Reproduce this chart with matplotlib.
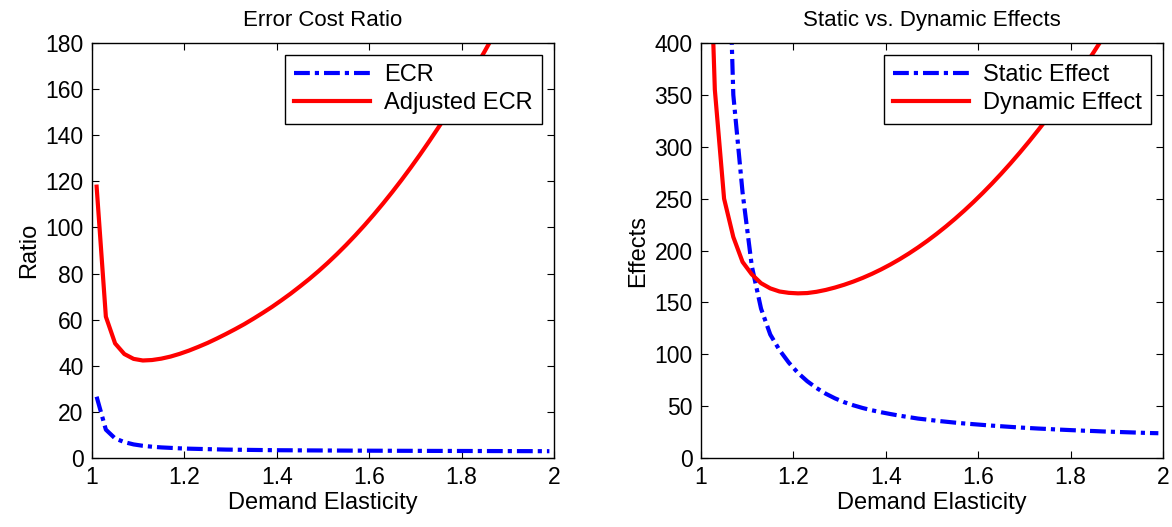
import numpy as np
import matplotlib
matplotlib.use("Agg")
import matplotlib.pyplot as plt

plt.rcParams['font.family'] = ['Liberation Sans', 'DejaVu Sans']

# demand elasticity grid
elasticity = [1.01, 1.03, 1.05, 1.07, 1.09, 1.11, 1.13, 1.15, 1.17, 1.19,
              1.21, 1.23, 1.25, 1.27, 1.29, 1.31, 1.33, 1.35, 1.37, 1.39,
              1.41, 1.43, 1.45, 1.47, 1.49, 1.51, 1.53, 1.55, 1.57, 1.59,
              1.61, 1.63, 1.65, 1.67, 1.69, 1.71, 1.73, 1.75, 1.77, 1.79,
              1.81, 1.83, 1.85, 1.87, 1.89, 1.91, 1.93, 1.95, 1.97, 1.99]

ecr = [26.6, 12.3, 8.5, 6.9, 5.9, 5.3, 4.9, 4.6, 4.4, 4.2,
       4.05, 3.95, 3.85, 3.75, 3.65, 3.6, 3.55, 3.5, 3.45, 3.4,
       3.37, 3.35, 3.32, 3.3, 3.28, 3.26, 3.24, 3.22, 3.2, 3.19,
       3.17, 3.16, 3.14, 3.13, 3.12, 3.1, 3.09, 3.08, 3.07, 3.06,
       3.05, 3.04, 3.03, 3.02, 3.01, 3.0, 2.99, 2.98, 2.97, 2.96]

adj_ecr = [117.7, 61.3, 49.7, 45.1, 43.0, 42.3, 42.5, 43.1, 44.0, 45.2,
           46.6, 48.2, 49.9, 51.8, 53.8, 55.9, 58.1, 60.5, 63.0, 65.6,
           68.4, 71.3, 74.4, 77.6, 81.0, 84.6, 88.4, 92.4, 96.6, 101.0,
           105.6, 110.4, 115.4, 120.6, 126.0, 131.6, 137.4, 143.4, 149.6, 156.0,
           162.6, 169.4, 176.4, 183.6, 191.0, 198.6, 206.4, 214.4, 222.6, 231.0]

static = [4000, 1400, 650, 350, 256, 185, 144, 119, 104, 92,
          82, 74, 67.5, 62, 57.5, 53.8, 50.8, 48.2, 46.0, 44.1,
          42.4, 40.8, 39.4, 38.0, 37.0, 35.9, 35.0, 34.1, 33.3, 32.6,
          31.9, 31.2, 30.6, 30.0, 29.4, 28.9, 28.4, 28.0, 27.5, 27.1,
          26.7, 26.3, 26.0, 25.6, 25.3, 25.0, 24.7, 24.4, 24.1, 23.9]

dynamic = [630, 355, 250, 213, 189, 177, 168.5, 163.5, 160.5, 159.2,
           158.7, 159.0, 160.2, 162.0, 164.3, 167.0, 170.1, 173.6, 177.5, 181.8,
           186.5, 191.6, 197.1, 203.0, 209.3, 216.0, 223.1, 230.6, 238.5, 246.8,
           255.5, 264.6, 274.1, 284.0, 294.3, 305.0, 316.1, 327.6, 339.5, 351.8,
           364.5, 377.6, 391.1, 405.0, 419.3, 434.0, 449.0, 464.5, 480.5, 497.0]

xticks = [1, 1.2, 1.4, 1.6, 1.8, 2]
xticklabels = ['1', '1.2', '1.4', '1.6', '1.8', '2']

LW = 3.0
dashdot = (0, (3.8, 1.2, 1.0, 1.2))

fig = plt.figure(figsize=(11.72, 5.27), dpi=100)
ax1 = fig.add_axes([0.0785, 0.1309, 0.3942, 0.7875])
ax2 = fig.add_axes([0.5981, 0.1309, 0.3942, 0.7875])


def style(ax, yticks, ylabel, title):
    ax.set_xlim(1, 2)
    ax.set_xticks(xticks)
    ax.set_xticklabels(xticklabels)
    ax.set_yticks(yticks)
    ax.set_ylim(yticks[0], yticks[-1])
    ax.tick_params(direction='in', top=True, right=True, length=5,
                   width=0.8, labelsize=16.5, pad=6)
    for s in ax.spines.values():
        s.set_linewidth(1.0)
    ax.set_xlabel('Demand Elasticity', fontsize=17, labelpad=2)
    ax.set_ylabel(ylabel, fontsize=17, labelpad=4)
    ax.set_title(title, fontsize=16, pad=12)
    leg = ax.legend(loc='upper right', fontsize=17, handlelength=3.2,
                    fancybox=False, framealpha=1, edgecolor='black',
                    borderaxespad=0.5, borderpad=0.4, labelspacing=0.25,
                    handletextpad=0.6)
    leg.get_frame().set_linewidth(1.0)


ax1.plot(elasticity, ecr, color='blue', lw=LW, linestyle=dashdot, label='ECR')
ax1.plot(elasticity, adj_ecr, color='red', lw=LW, label='Adjusted ECR')
style(ax1, list(range(0, 181, 20)), 'Ratio', 'Error Cost Ratio')

ax2.plot(elasticity, static, color='blue', lw=LW, linestyle=dashdot, label='Static Effect')
ax2.plot(elasticity, dynamic, color='red', lw=LW, label='Dynamic Effect')
style(ax2, list(range(0, 401, 50)), 'Effects', 'Static vs. Dynamic Effects')

fig.savefig('out.png', dpi=100)
